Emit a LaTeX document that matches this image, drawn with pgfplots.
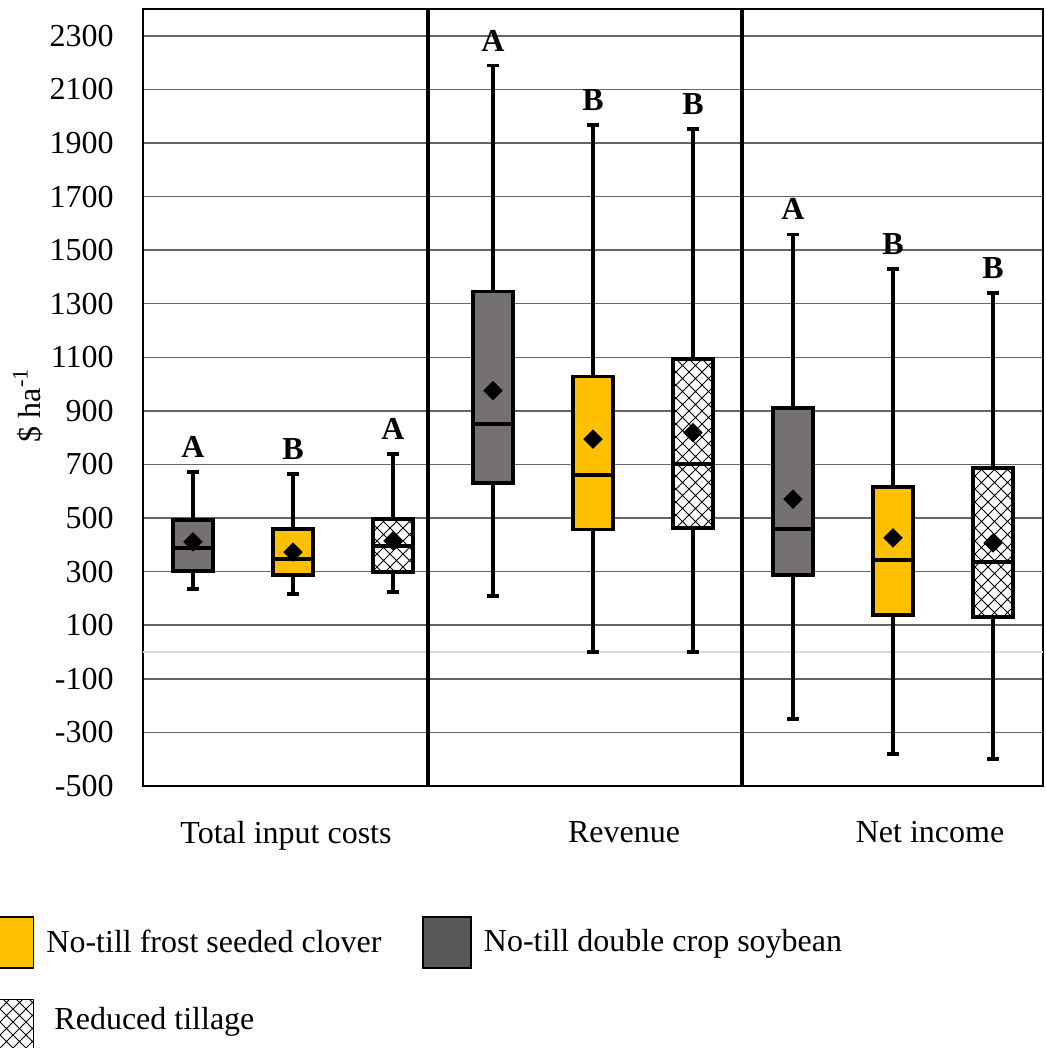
\documentclass[border=0pt]{standalone}
\usepackage{fontspec}
\setmainfont{Liberation Serif}
\usepackage{pgfplots}
\pgfplotsset{compat=1.18}
\usepgfplotslibrary{statistics}
\usetikzlibrary{patterns}
\definecolor{cgray}{HTML}{767171}
\definecolor{cyel}{HTML}{FFC000}
\definecolor{clegray}{HTML}{595959}
\pgfdeclarepatternformonly{diagcross}{\pgfqpoint{-0.5pt}{-0.5pt}}{\pgfqpoint{7pt}{7pt}}{\pgfqpoint{6.5pt}{6.5pt}}{%
  \pgfsetlinewidth{0.5pt}%
  \pgfpathmoveto{\pgfqpoint{0pt}{0pt}}\pgfpathlineto{\pgfqpoint{6.5pt}{6.5pt}}%
  \pgfpathmoveto{\pgfqpoint{0pt}{6.5pt}}\pgfpathlineto{\pgfqpoint{6.5pt}{0pt}}%
  \pgfusepath{stroke}}
\pgfdeclareplotmark{rdiamond}{%
  \pgfpathmoveto{\pgfqpoint{0pt}{\pgfplotmarksize}}%
  \pgfpathlineto{\pgfqpoint{\pgfplotmarksize}{0pt}}%
  \pgfpathlineto{\pgfqpoint{0pt}{-\pgfplotmarksize}}%
  \pgfpathlineto{\pgfqpoint{-\pgfplotmarksize}{0pt}}%
  \pgfpathclose\pgfusepathqfillstroke}
\newcommand{\bigfont}{\fontsize{16}{19.2}\selectfont}
\pgfplotsset{
  bp/.style={forget plot, draw=black, line width=1.8pt, solid,
    boxplot/draw direction=y,
    boxplot/every average/.style={/tikz/mark=rdiamond, /tikz/mark size=3.6pt,
      /tikz/mark options={fill=black, draw=black, line width=0.2pt, solid}}},
  bpgray/.style={bp, boxplot/every box/.append style={fill=cgray}},
  bpyel/.style={bp, boxplot/every box/.append style={fill=cyel}},
  bphatch/.style={bp, boxplot/every box/.append style={fill=white, postaction={pattern=diagcross}}},
}
\begin{document}
\begin{tikzpicture}[font=\bigfont]
\begin{axis}[name=ax, scale only axis, width=450pt, height=388.5pt,
  xmin=143, xmax=1043, ymin=-500, ymax=2400,
  ytick={-500,-300,...,2300},
  xtick={286,624,930}, xticklabels={Total input costs, Revenue, Net income},
  major tick length=0pt,
  ymajorgrids, xmajorgrids=false,
  major grid style={draw=black!60, line width=0.75pt},
  axis line style={line width=0.9pt},
  /pgf/number format/assume math mode=true,
  /pgf/number format/1000 sep={},
  yticklabel style={inner sep=0pt, xshift=-14.5pt, font=\bigfont},
  xticklabel style={inner sep=0pt, yshift=-17.5pt, font=\bigfont},
  ylabel={\$ ha\textsuperscript{-1}},
  ylabel style={at={(axis description cs:-0.128,0.49)}, anchor=center, font=\bigfont},
  boxplot/draw direction=y,
  boxplot/box extend=40, boxplot/whisker extend=12,
  legend image code/.code={\draw[#1, line width=0.75pt] (0pt,-12.75pt) rectangle (24pt,12.75pt);},
  legend columns=2, legend cell align=left,
  legend style={at={(axis description cs:-0.17556,-0.16731)}, anchor=north west,
    draw=none, fill=none, inner sep=0pt, outer sep=0pt,
    column sep=6pt, row sep=15pt, font=\bigfont,
    nodes={inner sep=0pt, anchor=west},
    /tikz/every even column/.append style={column sep=20.5pt}},
]
% zero line
\addplot[forget plot, draw=black!15, line width=0.75pt] coordinates {(143,0) (1043,0)};
% group dividers
\addplot[forget plot, black, line width=1.9pt] coordinates {(428,-500) (428,2400)};
\addplot[forget plot, black, line width=1.9pt] coordinates {(742,-500) (742,2400)};
% Total input costs
\addplot[bpgray, boxplot prepared={draw position=193, lower whisker=235, lower quartile=302, median=388, upper quartile=493, upper whisker=672, average=411}] coordinates {};
\addplot[bpyel, boxplot prepared={draw position=293, lower whisker=217, lower quartile=288, median=347, upper quartile=459, upper whisker=665, average=373}] coordinates {};
\addplot[bphatch, boxplot prepared={draw position=393, lower whisker=224, lower quartile=299, median=396, upper quartile=497, upper whisker=739, average=415}] coordinates {};
% Revenue
\addplot[bpgray, boxplot prepared={draw position=493, lower whisker=210, lower quartile=632, median=850, upper quartile=1345, upper whisker=2189, average=976}] coordinates {};
\addplot[bpyel, boxplot prepared={draw position=593, lower whisker=0, lower quartile=458, median=661, upper quartile=1028, upper whisker=1966, average=795}] coordinates {};
\addplot[bphatch, boxplot prepared={draw position=693, lower whisker=0, lower quartile=462, median=701, upper quartile=1093, upper whisker=1951, average=819}] coordinates {};
% Net income
\addplot[bpgray, boxplot prepared={draw position=793, lower whisker=-250, lower quartile=288, median=459, upper quartile=911, upper whisker=1559, average=571}] coordinates {};
\addplot[bpyel, boxplot prepared={draw position=893, lower whisker=-381, lower quartile=138, median=344, upper quartile=616, upper whisker=1429, average=426}] coordinates {};
\addplot[bphatch, boxplot prepared={draw position=993, lower whisker=-399, lower quartile=131, median=336, upper quartile=687, upper whisker=1339, average=407}] coordinates {};
% significance letters
\foreach \xx/\yy/\ll in {193/672/A, 293/665/B, 393/739/A, 493/2189/A, 593/1966/B, 693/1951/B, 793/1559/A, 893/1429/B, 993/1339/B}{
  \edef\temp{\noexpand\node[anchor=south, inner sep=0pt, yshift=7pt] at (axis cs:\xx,\yy) {\noexpand\textbf{\ll}};}
  \temp
}
% legend
\addlegendimage{fill=cyel, draw=black}
\addlegendentry{No-till frost seeded clover}
\addlegendimage{fill=clegray, draw=black}
\addlegendentry{No-till double crop soybean}
\addlegendimage{fill=white, draw=black, postaction={pattern=diagcross}}
\addlegendentry{\hspace{4pt}\raisebox{4.5pt}{Reduced tillage}}
\end{axis}
\pgfresetboundingbox
\path[use as bounding box] ([shift={(-71.5pt,-131pt)}]ax.south west) rectangle ([shift={(451pt,393pt)}]ax.south west);
\end{tikzpicture}
\end{document}
